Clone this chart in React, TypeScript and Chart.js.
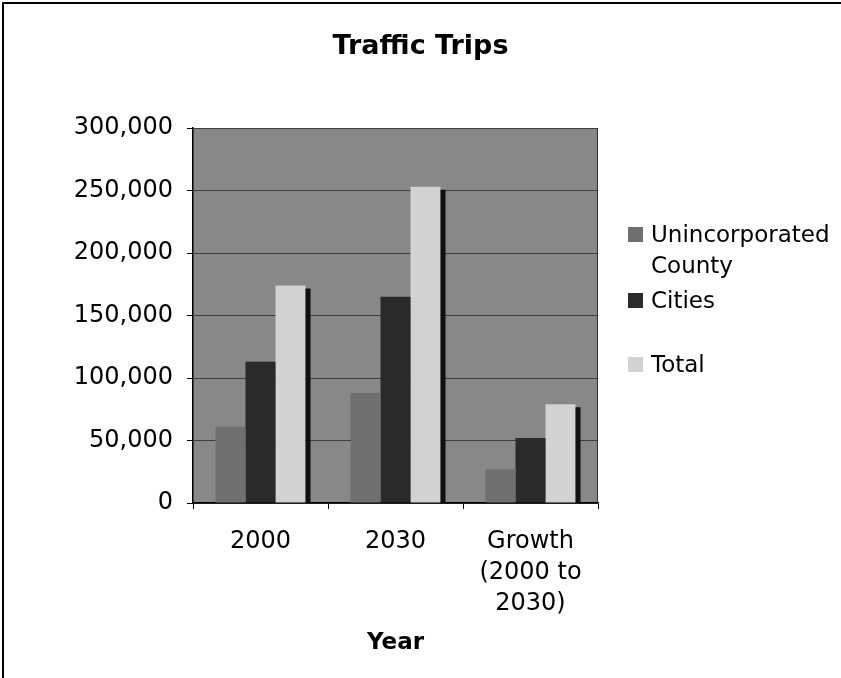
import React, { useEffect, useRef } from "react";
import { Chart, registerables } from "chart.js";

Chart.register(...registerables);

const titleText = "Traffic Trips";
const xAxisTitle = "Year";
const categories: (string | string[])[] = ["2000", "2030", ["Growth", "(2000 to", "2030)"]];
const seriesNames = ["Unincorporated County", "Cities", "Total"];
const unincorporated = [61000, 88000, 27000];
const cities = [113000, 165000, 52000];
const total = [174000, 253000, 79000];
const yTicks = [0, 50000, 100000, 150000, 200000, 250000, 300000];

const seriesColors = ["#6f6f6f", "#2a2a2a", "#d2d2d2"];
const FONT = "'DejaVu Sans', Verdana, sans-serif";

const plotPlugin = {
  id: "plotDecor",
  beforeDraw(chart: any) {
    const { ctx, chartArea: a } = chart;
    ctx.save();
    ctx.fillStyle = "#888888";
    ctx.fillRect(a.left, a.top, a.right - a.left, a.bottom - a.top);
    ctx.restore();
  },
  afterDatasetsDraw(chart: any) {
    const { ctx, chartArea: a } = chart;
    const meta = chart.getDatasetMeta(2);
    ctx.save();
    ctx.fillStyle = "#111111";
    meta.data.forEach((bar: any) => {
      const p = bar.getProps(["x", "y", "base", "width"], true);
      ctx.fillRect(p.x + p.width / 2, p.y + 3, 5, p.base - p.y - 3);
    });
    ctx.strokeStyle = "#333333";
    ctx.lineWidth = 1;
    ctx.beginPath();
    ctx.moveTo(a.right - 0.5, a.top);
    ctx.lineTo(a.right - 0.5, a.bottom);
    ctx.stroke();
    ctx.restore();
  },
};

export default function App() {
  const ref = useRef<HTMLCanvasElement | null>(null);

  useEffect(() => {
    document.body.style.margin = "0";
    const canvas = ref.current;
    if (!canvas) return;
    const chart = new Chart(canvas, {
      type: "bar",
      data: {
        labels: categories as any,
        datasets: [
          { label: seriesNames[0], data: unincorporated, backgroundColor: seriesColors[0] },
          { label: seriesNames[1], data: cities, backgroundColor: seriesColors[1] },
          { label: seriesNames[2], data: total, backgroundColor: seriesColors[2] },
        ],
      },
      options: {
        responsive: false,
        animation: false,
        devicePixelRatio: 1,
        layout: { padding: { top: 128, right: 243, bottom: 17, left: 0 } },
        datasets: { bar: { categoryPercentage: 0.667, barPercentage: 1 } },
        plugins: {
          legend: { display: false },
          title: { display: false },
          tooltip: { enabled: false },
        },
        scales: {
          x: {
            grid: {
              display: true,
              drawOnChartArea: false,
              drawTicks: true,
              tickLength: 6,
              tickColor: "#000000",
              offset: true,
            },
            border: { display: true, color: "#000000", width: 1.5 },
            ticks: {
              color: "#000000",
              padding: 17,
              maxRotation: 0,
              autoSkip: false,
              font: { family: FONT, size: 24, lineHeight: 1.3 },
            },
            title: {
              display: true,
              text: xAxisTitle,
              color: "#000000",
              padding: { top: 0, bottom: 4 },
              font: { family: FONT, size: 23, weight: "bold", lineHeight: 1.2 },
            },
            afterFit(scale: any) {
              scale.height = 158;
            },
          },
          y: {
            min: 0,
            max: 300000,
            afterBuildTicks(scale: any) {
              scale.ticks = yTicks.map((v) => ({ value: v }));
            },
            grid: {
              color: "#3e3e3e",
              lineWidth: 1,
              tickLength: 6,
              tickColor: "#000000",
            },
            border: { display: true, color: "#000000", width: 1.5 },
            ticks: {
              color: "#000000",
              padding: 14,
              font: { family: FONT, size: 24 },
              callback: (v: any) => Number(v).toLocaleString("en-US"),
            },
            afterFit(scale: any) {
              scale.width = 193;
            },
          },
        },
      },
      plugins: [plotPlugin],
    });
    return () => chart.destroy();
  }, []);

  const legendItems = [
    { top: 219, lines: ["Unincorporated", "County"] },
    { top: 285, lines: ["Cities"] },
    { top: 349, lines: ["Total"] },
  ];

  return (
    <div style={{ position: "relative", width: 841, height: 678, background: "#ffffff", overflow: "hidden" }}>
      <canvas ref={ref} width={841} height={678} style={{ display: "block", width: 841, height: 678 }} />
      <div style={{ position: "absolute", left: 2, top: 2, width: 839, height: 2, background: "#000" }} />
      <div style={{ position: "absolute", left: 2, top: 2, width: 2, height: 676, background: "#000" }} />
      <div
        style={{
          position: "absolute",
          left: 0,
          top: 29,
          width: 841,
          textAlign: "center",
          fontFamily: FONT,
          fontWeight: "bold",
          fontSize: 27,
          lineHeight: "32px",
          color: "#000",
        }}
      >
        {titleText}
      </div>
      {legendItems.map((item, i) => (
        <div
          key={i}
          style={{ position: "absolute", left: 628, top: item.top, fontFamily: FONT, fontSize: 23, lineHeight: "31px", color: "#000" }}
        >
          <div
            style={{
              position: "absolute",
              left: 0,
              top: 8,
              width: 15,
              height: 15,
              background: seriesColors[i],
            }}
            title={seriesNames[i]}
          />
          <div style={{ marginLeft: 23, whiteSpace: "nowrap" }}>
            {item.lines.map((l, j) => (
              <div key={j}>{l}</div>
            ))}
          </div>
        </div>
      ))}
    </div>
  );
}
